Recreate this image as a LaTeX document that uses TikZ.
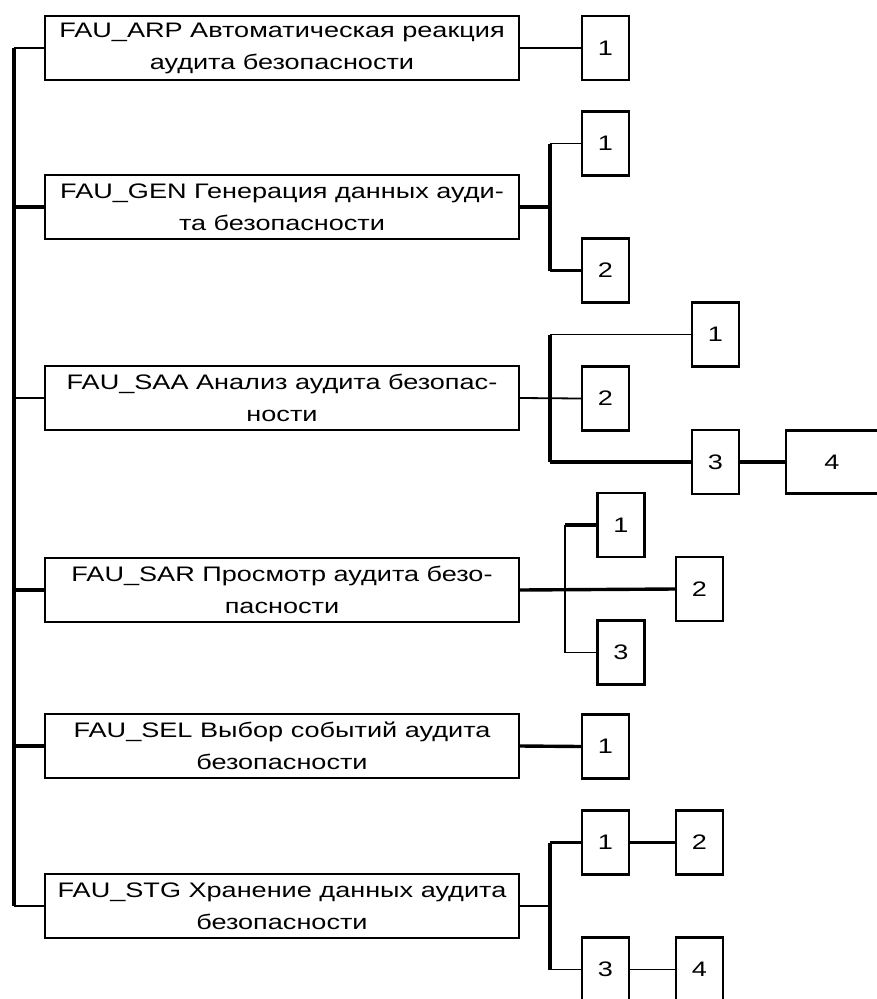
\documentclass[tikz,border=0pt]{standalone}
\usepackage{fontspec}
\setmainfont{Liberation Sans}[FakeStretch=1.29]
\begin{document}
\begin{tikzpicture}[x=1pt,y=-1pt,
  every node/.style={font=\fontsize{21}{32}\selectfont},
  mainbox/.style={draw,line width=2.4pt,minimum width=474pt,minimum height=64pt,inner sep=0pt,align=center},
  numbox/.style={draw,line width=2.4pt,minimum width=47pt,minimum height=64pt,inner sep=0pt},
  widebox/.style={draw,line width=2.4pt,minimum width=92pt,minimum height=63pt,inner sep=0pt},
  thin/.style={line width=1.8pt},
  thick/.style={line width=3.4pt}]
\useasboundingbox (0,0) rectangle (876,999);
\fill[white] (0,0) rectangle (876,999);
% main boxes
\node[mainbox] (arp) at (282,48) {FAU\_ARP Автоматическая реакция\\аудита безопасности};
\node[mainbox] (gen) at (282,207) {FAU\_GEN Генерация данных ауди-\\та безопасности};
\node[mainbox] (saa) at (282,398) {FAU\_SAA Анализ аудита безопас-\\ности};
\node[mainbox] (sar) at (282,590) {FAU\_SAR Просмотр аудита безо-\\пасности};
\node[mainbox] (sel) at (282,746) {FAU\_SEL Выбор событий аудита\\безопасности};
\node[mainbox] (stg) at (282,906) {FAU\_STG Хранение данных аудита\\безопасности};
% spine
\coordinate (sp) at (14,0);
\draw[thick] (sp |- arp.west) -- (sp |- stg.west);
\draw[thin] (sp |- arp.west) -- (arp.west);
\draw[thick] (sp |- gen.west) -- (gen.west);
\draw[thin] (sp |- saa.west) -- (saa.west);
\draw[thick] (sp |- sar.west) -- (sar.west);
\draw[thick] (sp |- sel.west) -- (sel.west);
\draw[thin] (sp |- stg.west) -- (stg.west);
% ARP
\node[numbox] (arp1) at (605.5,48) {1};
\draw[thin] (arp.east) -- (arp1.west);
% GEN
\node[numbox] (gen1) at (605.5,143.5) {1};
\node[numbox] (gen2) at (605.5,270.5) {2};
\coordinate (jg) at (550,0);
\draw[thick] (gen.east) -- (gen.east -| jg);
\draw[thick] (gen1.west -| jg) -- (gen2.west -| jg);
\draw[thin] (gen1.west -| jg) -- (gen1.west);
\draw[thick] (gen2.west -| jg) -- (gen2.west);
% SAA
\node[numbox] (saa1) at (715.5,334.5) {1};
\node[numbox] (saa2) at (605.5,398.5) {2};
\node[numbox] (saa3) at (715.5,462) {3};
\node[widebox] (saa4) at (832,462) {4};
\coordinate (ja) at (550,0);
\draw[thin] (saa.east) -- (saa2.west);
\draw[thick] (saa1.west -| ja) -- (saa3.west -| ja);
\draw[thin] (saa1.west -| ja) -- (saa1.west);
\draw[thick] (saa3.west -| ja) -- (saa3.west);
\draw[thick] (saa3.east) -- (saa4.west);
% SAR
\node[numbox] (sar1) at (621,525) {1};
\node[numbox] (sar2) at (699.5,589) {2};
\node[numbox] (sar3) at (621,652.5) {3};
\coordinate (jr) at (565,0);
\draw[thick] (sar.east) -- (sar2.west);
\draw[thin] (sar1.west -| jr) -- (sar3.west -| jr);
\draw[thick] (sar1.west -| jr) -- (sar1.west);
\draw[thin] (sar3.west -| jr) -- (sar3.west);
% SEL
\node[numbox] (sel1) at (605.5,746.5) {1};
\draw[thick] (sel.east) -- (sel1.west);
% STG
\node[numbox] (stg1) at (605.5,842.5) {1};
\node[numbox] (stg2) at (699.5,842.5) {2};
\node[numbox] (stg3) at (605.5,969.5) {3};
\node[numbox] (stg4) at (699.5,969.5) {4};
\coordinate (js) at (550,0);
\draw[thin] (stg.east) -- (stg.east -| js);
\draw[thick] (stg1.west -| js) -- (stg3.west -| js);
\draw[thick] (stg1.west -| js) -- (stg1.west);
\draw[thin] (stg3.west -| js) -- (stg3.west);
\draw[thick] (stg1.east) -- (stg2.west);
\draw[thin] (stg3.east) -- (stg4.west);
\end{tikzpicture}
\end{document}
